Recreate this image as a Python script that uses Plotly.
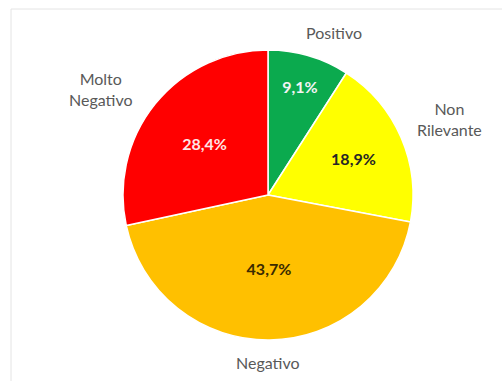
import plotly.graph_objects as go

# Sentiment categories, clockwise from 12 o'clock
categories = ["Positivo", "Non Rilevante", "Negativo", "Molto Negativo"]
shares = [9.1, 18.9, 43.7, 28.4]
slice_colors = ["#0BAA4E", "#FFFF00", "#FFC000", "#FF0000"]
value_text_colors = ["#F4F4F4", "#262626", "#3A2A00", "#FFE6E6"]

W, H = 502, 381
cx, cy, r = 268, 195, 145  # pie centre / radius in pixels (from top-left)

pct_labels = [f"{v:.1f}%".replace(".", ",") for v in shares]

fig = go.Figure(
    go.Pie(
        labels=categories,
        values=shares,
        text=pct_labels,
        textinfo="text",
        textposition="inside",
        insidetextorientation="horizontal",
        sort=False,
        direction="clockwise",
        rotation=0,
        marker=dict(colors=slice_colors, line=dict(color="#FFFFFF", width=1.5)),
        textfont=dict(family="Lato", size=16, color=value_text_colors, weight="bold"),
        showlegend=False,
        hoverinfo="label+text",
        domain=dict(
            x=[(cx - r) / W, (cx + r) / W],
            y=[(H - cy - r) / H, (H - cy + r) / H],
        ),
    )
)

# Category names placed around the pie
name_pos = {
    "Positivo": (334, 33),
    "Non Rilevante": (449, 119),
    "Negativo": (268, 362),
    "Molto Negativo": (101, 89),
}
name_text = {
    "Positivo": "Positivo",
    "Non Rilevante": "Non<br>Rilevante",
    "Negativo": "Negativo",
    "Molto Negativo": "Molto<br>Negativo",
}
for cat in categories:
    px_, py_ = name_pos[cat]
    fig.add_annotation(
        x=px_ / W, y=1 - py_ / H, xref="paper", yref="paper",
        text=name_text[cat], showarrow=False,
        xanchor="center", yanchor="middle",
        font=dict(family="Lato", size=16, color="#595959"),
        align="center",
    )

# Chart-area frame
fig.add_shape(
    type="rect", xref="paper", yref="paper",
    x0=11 / W, x1=1.01, y0=-0.01, y1=1 - 9 / H,
    line=dict(color="#E4E4E4", width=1), fillcolor="rgba(0,0,0,0)",
)

fig.update_layout(
    width=W, height=H,
    margin=dict(l=0, r=0, t=0, b=0),
    paper_bgcolor="#FFFFFF",
    plot_bgcolor="#FFFFFF",
)

fig.write_html("out.html")
